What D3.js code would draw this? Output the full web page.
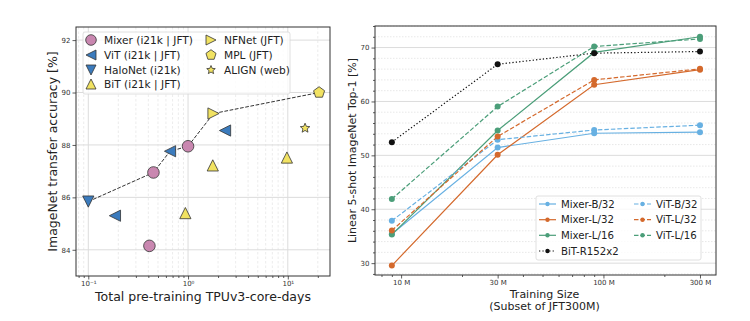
<!DOCTYPE html>
<html>
<head>
<meta charset="utf-8">
<script src="https://cdn.jsdelivr.net/npm/d3@7"></script>
<style>
  body { margin: 0; background: #fff; }
  svg { font-family: "DejaVu Sans", sans-serif; }
</style>
</head>
<body>
<div id="chart"></div>
<script>
// ---- left panel data (TPUv3-core-days vs transfer accuracy)
var mixerX = [0.41, 0.45, 1.0], mixerY = [84.15, 86.95, 87.95];
var vitX = [0.185, 0.66, 2.35], vitY = [85.3, 87.76, 88.55];
var haloX = [0.1], haloY = [85.84];
var bitX = [0.94, 1.77, 9.8], bitY = [85.4, 87.22, 87.52];
var nfnetX = [1.8], nfnetY = [89.2];
var mplX = [20.6], mplY = [90.0];
var alignX = [14.9], alignY = [88.64];
var frontierX = [0.1, 0.45, 0.66, 1.0, 1.8, 20.6];
var frontierY = [85.84, 86.95, 87.76, 87.95, 89.2, 90.0];
var leftYTicks = [84, 86, 88, 90, 92];
var leftXTicks = [0.1, 1, 10], leftXTickLabels = ["10\u207B\u00B9", "10\u2070", "10\u00B9"];

// ---- right panel data (training size vs 5-shot top-1)
var sizes = [9, 30, 90, 300];
var mixerB32 = [35.4, 51.45, 54.1, 54.3];
var mixerL32 = [29.55, 50.1, 63.1, 65.9];
var mixerL16 = [35.3, 54.6, 69.1, 72.0];
var vitB32 = [37.85, 52.9, 54.7, 55.6];
var vitL32 = [36.05, 53.5, 64.0, 66.05];
var vitL16 = [41.9, 59.05, 70.2, 71.6];
var bitR152 = [52.45, 66.9, 68.96, 69.26];
var rightXTicks = [10, 30, 100, 300], rightXTickLabels = ["10 M", "30 M", "100 M", "300 M"];
var rightYTicks = [30, 40, 50, 60, 70];

var W = 750, H = 321;
var svg = d3.select("#chart").append("svg").attr("width", W).attr("height", H);

var pink = "#c987b0", blue = "#3b7bbd", yellow = "#f1e262";
var lblue = "#67b0e2", orange = "#d4692c", green = "#4b9e79";

// marker path generator, matplotlib-ish shapes
function marker(type, r){
    var pts;
    if(type === "circle") return d3.symbol(d3.symbolCircle, Math.PI*r*r)();
    if(type === "up") pts = [[0,-r],[-r,r],[r,r]];
    if(type === "down") pts = [[0,r],[-r,-r],[r,-r]];
    if(type === "left") pts = [[-r,0],[r,-r],[r,r]];
    if(type === "right") pts = [[r,0],[-r,-r],[-r,r]];
    if(type === "pent"){
        pts = d3.range(5).map(function(i){
            var a = -Math.PI/2 + i*2*Math.PI/5;
            return [r*Math.cos(a), r*Math.sin(a)];
        });
    }
    if(type === "star"){
        pts = d3.range(10).map(function(i){
            var a = -Math.PI/2 + i*Math.PI/5, rr = i%2 ? r*0.45 : r;
            return [rr*Math.cos(a), rr*Math.sin(a)];
        });
    }
    return "M" + pts.map(function(p){ return p.join(","); }).join("L") + "Z";
}

// ================= LEFT PANEL =================
var L = {x0: 76, x1: 330, y0: 27, y1: 276};
var lx = d3.scaleLog().domain([0.0753, 26.5]).range([L.x0, L.x1]);
var ly = d3.scaleLinear().domain([83.0, 92.5]).range([L.y1, L.y0]);
var lg = svg.append("g");

// minor vertical grid (dashed)
var minorX = [];
[0.01, 0.1, 1, 10].forEach(function(d){
    for(var k=2;k<10;k++){ var v=d*k; if(v>0.0753 && v<26.5) minorX.push(v); }
});
lg.selectAll(".mgx").data(minorX).enter().append("line")
    .attr("x1", lx).attr("x2", lx).attr("y1", L.y0).attr("y2", L.y1)
    .attr("stroke", "#e4e4e4").attr("stroke-width", 0.7).attr("stroke-dasharray", "2.5,2");
lg.selectAll(".gx").data(leftXTicks).enter().append("line")
    .attr("x1", lx).attr("x2", lx).attr("y1", L.y0).attr("y2", L.y1)
    .attr("stroke", "#dcdcdc").attr("stroke-width", 1);
lg.selectAll(".gy").data(leftYTicks).enter().append("line")
    .attr("x1", L.x0).attr("x2", L.x1).attr("y1", ly).attr("y2", ly)
    .attr("stroke", "#dcdcdc").attr("stroke-width", 1);

// axes
var lxAxis = d3.axisBottom(lx).tickValues(leftXTicks).tickSize(3.5).tickPadding(2)
    .tickFormat(function(d, i){ return leftXTickLabels[i]; });
var lxMinor = d3.axisBottom(lx).tickValues(minorX).tickSize(2).tickFormat("");
var lyAxis = d3.axisLeft(ly).tickValues(leftYTicks).tickSize(3.5).tickPadding(2);
lg.append("g").attr("transform", "translate(0," + L.y1 + ")").call(lxAxis);
lg.append("g").attr("transform", "translate(0," + L.y1 + ")").call(lxMinor);
lg.append("g").attr("transform", "translate(" + L.x0 + ",0)").call(lyAxis);

// frontier
var lline = d3.line().x(function(d){ return lx(d[0]); }).y(function(d){ return ly(d[1]); });
lg.append("path").datum(d3.zip(frontierX, frontierY)).attr("d", lline)
    .attr("fill", "none").attr("stroke", "#333").attr("stroke-width", 1).attr("stroke-dasharray", "3.7,1.6");

function scatter(xs, ys, type, r, col){
    lg.selectAll(null).data(d3.zip(xs, ys)).enter().append("path")
        .attr("d", marker(type, r))
        .attr("transform", function(d){ return "translate(" + lx(d[0]) + "," + ly(d[1]) + ")"; })
        .attr("fill", col).attr("stroke", "#333").attr("stroke-width", 0.8);
}
scatter(mixerX, mixerY, "circle", 5.8, pink);
scatter(vitX, vitY, "left", 5.6, blue);
scatter(haloX, haloY, "down", 5.6, blue);
scatter(bitX, bitY, "up", 5.6, yellow);
scatter(nfnetX, nfnetY, "right", 5.6, yellow);
scatter(mplX, mplY, "pent", 5.8, yellow);
scatter(alignX, alignY, "star", 5, yellow);

// frame
lg.append("rect").attr("x", L.x0).attr("y", L.y0).attr("width", L.x1-L.x0).attr("height", L.y1-L.y0)
    .attr("fill", "none").attr("stroke", "#333").attr("stroke-width", 1);

// legend
var leg1 = lg.append("g");
leg1.append("rect").attr("x", 83).attr("y", 32).attr("width", 207).attr("height", 62).attr("rx", 2)
    .attr("fill", "rgba(255,255,255,0.8)").attr("stroke", "#d8d8d8").attr("stroke-width", 0.8);
var legItems1 = [
    ["Mixer (i21k | JFT)", "circle", pink, 91, 40, 5.3],
    ["ViT (i21k | JFT)", "left", blue, 91, 55, 5],
    ["HaloNet (i21k)", "down", blue, 91, 70, 5],
    ["BiT (i21k | JFT)", "up", yellow, 91, 84, 5],
    ["NFNet (JFT)", "right", yellow, 211, 40, 5],
    ["MPL (JFT)", "pent", yellow, 211, 55, 5.3],
    ["ALIGN (web)", "star", yellow, 211, 70, 4.5]
];
legItems1.forEach(function(d){
    leg1.append("path").attr("d", marker(d[1], d[5]))
        .attr("transform", "translate(" + d[3] + "," + d[4] + ")")
        .attr("fill", d[2]).attr("stroke", "#333").attr("stroke-width", 0.8);
    leg1.append("text").attr("x", d[3] + 13).attr("y", d[4] + 3.8)
        .attr("font-size", 10.6).attr("fill", "#222").text(d[0]);
});

lg.append("text").attr("x", (L.x0+L.x1)/2).attr("y", 301).attr("text-anchor", "middle")
    .attr("font-size", 12.5).attr("fill", "#222").text("Total pre-training TPUv3-core-days");
lg.append("text").attr("transform", "translate(57," + ((L.y0+L.y1)/2) + ") rotate(-90)")
    .attr("text-anchor", "middle").attr("font-size", 12.5).attr("fill", "#222")
    .text("ImageNet transfer accuracy [%]");

// ================= RIGHT PANEL =================
var R = {x0: 375, x1: 716, y0: 26, y1: 275};
var rx = d3.scaleLog().domain([7.43, 360]).range([R.x0, R.x1]);
var ry = d3.scaleLinear().domain([27.8, 74]).range([R.y1, R.y0]);
var rg = svg.append("g");

var minorY = d3.range(28, 74.1, 2).filter(function(v){ return v % 10 !== 0; });
rg.selectAll(".mgy").data(minorY).enter().append("line")
    .attr("x1", R.x0).attr("x2", R.x1).attr("y1", ry).attr("y2", ry)
    .attr("stroke", "#e2e2e2").attr("stroke-width", 0.8).attr("stroke-dasharray", "1.5,1.5");
rg.selectAll(".gy").data(rightYTicks).enter().append("line")
    .attr("x1", R.x0).attr("x2", R.x1).attr("y1", ry).attr("y2", ry)
    .attr("stroke", "#dcdcdc").attr("stroke-width", 1);

var rMinorX = [8, 9, 20, 40, 50, 60, 70, 80, 90, 200];
var rxAxis = d3.axisBottom(rx).tickValues(rightXTicks).tickSize(3.5).tickPadding(2)
    .tickFormat(function(d, i){ return rightXTickLabels[i]; });
var rxMinor = d3.axisBottom(rx).tickValues(rMinorX).tickSize(2).tickFormat("");
var ryAxis = d3.axisLeft(ry).tickValues(rightYTicks).tickSize(3.5).tickPadding(2);
var ryMinor = d3.axisLeft(ry).tickValues(minorY).tickSize(2).tickFormat("");
rg.append("g").attr("transform", "translate(0," + R.y1 + ")").call(rxAxis);
rg.append("g").attr("transform", "translate(0," + R.y1 + ")").call(rxMinor);
rg.append("g").attr("transform", "translate(" + R.x0 + ",0)").call(ryAxis);
rg.append("g").attr("transform", "translate(" + R.x0 + ",0)").call(ryMinor);

var series = [
    {name: "Mixer-B/32", vals: mixerB32, col: lblue, dash: null},
    {name: "Mixer-L/32", vals: mixerL32, col: orange, dash: null},
    {name: "Mixer-L/16", vals: mixerL16, col: green, dash: null},
    {name: "BiT-R152x2", vals: bitR152, col: "#111", dash: "1.3,2.1"},
    {name: "ViT-B/32", vals: vitB32, col: lblue, dash: "4.5,2"},
    {name: "ViT-L/32", vals: vitL32, col: orange, dash: "4.5,2"},
    {name: "ViT-L/16", vals: vitL16, col: green, dash: "4.5,2"}
];
var rline = d3.line().x(function(d){ return rx(d[0]); }).y(function(d){ return ry(d[1]); });
series.forEach(function(s){
    var pts = d3.zip(sizes, s.vals);
    rg.append("path").datum(pts).attr("d", rline).attr("fill", "none")
        .attr("stroke", s.col).attr("stroke-width", 1.2)
        .attr("stroke-dasharray", s.dash);
    rg.selectAll(null).data(pts).enter().append("circle")
        .attr("cx", function(d){ return rx(d[0]); }).attr("cy", function(d){ return ry(d[1]); })
        .attr("r", 3).attr("fill", s.col);
});

rg.append("rect").attr("x", R.x0).attr("y", R.y0).attr("width", R.x1-R.x0).attr("height", R.y1-R.y0)
    .attr("fill", "none").attr("stroke", "#333").attr("stroke-width", 1);

// legend
var leg2 = rg.append("g");
leg2.append("rect").attr("x", 536).attr("y", 196).attr("width", 165).attr("height", 64).attr("rx", 2)
    .attr("fill", "rgba(255,255,255,0.8)").attr("stroke", "#d8d8d8").attr("stroke-width", 0.8);
var legPos = [[539, 204], [539, 219.7], [539, 235.3], [539, 251], [634, 204], [634, 219.7], [634, 235.3]];
series.forEach(function(s, i){
    var p = legPos[i];
    leg2.append("line").attr("x1", p[0]).attr("x2", p[0] + 17).attr("y1", p[1]).attr("y2", p[1])
        .attr("stroke", s.col).attr("stroke-width", 1.2).attr("stroke-dasharray", s.dash);
    leg2.append("circle").attr("cx", p[0] + 8.5).attr("cy", p[1]).attr("r", 2.2).attr("fill", s.col);
    leg2.append("text").attr("x", p[0] + 22).attr("y", p[1] + 3.6)
        .attr("font-size", 10.2).attr("fill", "#222").text(s.name);
});

rg.append("text").attr("x", (R.x0+R.x1)/2 - 1).attr("y", 298).attr("text-anchor", "middle")
    .attr("font-size", 11).attr("fill", "#222").text("Training Size");
rg.append("text").attr("x", (R.x0+R.x1)/2 - 1).attr("y", 310).attr("text-anchor", "middle")
    .attr("font-size", 11).attr("fill", "#222").text("(Subset of JFT300M)");
rg.append("text").attr("transform", "translate(356," + ((R.y0+R.y1)/2) + ") rotate(-90)")
    .attr("text-anchor", "middle").attr("font-size", 11).attr("fill", "#222")
    .text("Linear 5-shot ImageNet Top-1 [%]");

// axis styling
svg.selectAll(".domain").remove();
svg.selectAll(".tick text").attr("font-size", 7).attr("fill", "#333").attr("font-family", "DejaVu Sans");
svg.selectAll(".tick line").attr("stroke", "#333").attr("stroke-width", 0.8);
</script>
</body>
</html>
